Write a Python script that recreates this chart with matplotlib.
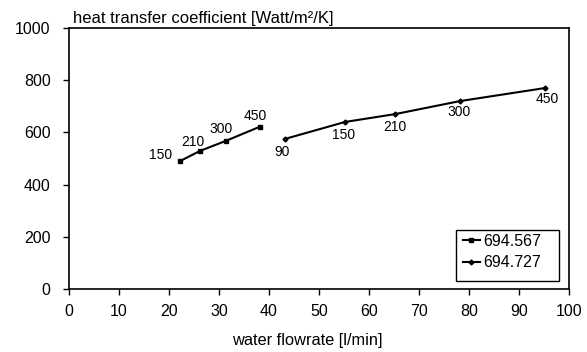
import matplotlib
matplotlib.use("Agg")
import matplotlib.pyplot as plt
from matplotlib.patches import Rectangle

plt.rcParams['font.family'] = ['Liberation Sans', 'DejaVu Sans']

s1_x = [22.2, 26.2, 31.3, 38.2]
s1_y = [490, 529, 567, 622]
s1_labels = ["150", "210", "300", "450"]

s2_x = [43.2, 55.2, 65.2, 78.2, 95.2]
s2_y = [575, 640, 670, 720, 770]
s2_labels = ["90", "150", "210", "300", "450"]

W, H = 587, 352
PX = 72 / 100  # points per pixel

# label offsets (pixels, layout only)
s1_off = [(-19, 6), (-7, 9), (-4, 12), (-5, 11)]
s2_off = [(-3, -13), (-1, -13), (0, -13), (-1, -11), (2, -11)]

fig = plt.figure(figsize=(W / 100, H / 100), dpi=100)
AX_L, AX_T, AX_R, AX_B = 69, 28, 569, 289
ax = fig.add_axes([AX_L / W, 1 - AX_B / H, (AX_R - AX_L) / W, (AX_B - AX_T) / H])

def ax_fx(px):
    return (px - AX_L) / (AX_R - AX_L)

def ax_fy(py):
    return (AX_B - py) / (AX_B - AX_T)

ax.plot(s1_x, s1_y, color='black', lw=1.5, marker='s', ms=3, label='694.567')
ax.plot(s2_x, s2_y, color='black', lw=1.5, marker='D', ms=2.5, label='694.727')

for (x, y, t), (dx, dy) in zip(zip(s1_x, s1_y, s1_labels), s1_off):
    ax.annotate(t, (x, y), xytext=(dx * PX, dy * PX), textcoords='offset points',
                ha='center', va='center', fontsize=10)
for (x, y, t), (dx, dy) in zip(zip(s2_x, s2_y, s2_labels), s2_off):
    ax.annotate(t, (x, y), xytext=(dx * PX, dy * PX), textcoords='offset points',
                ha='center', va='center', fontsize=10)

ax.set_xlim(0, 100)
ax.set_ylim(0, 1000)
ax.set_xticks(range(0, 101, 10))
ax.set_yticks(range(0, 1001, 200))
ax.tick_params(direction='out', length=4.3, labelsize=11.5, width=1, colors='black')
ax.tick_params(axis='y', pad=9)
ax.tick_params(axis='x', pad=6.5)
for sp in ax.spines.values():
    sp.set_linewidth(1.2)

fig.text(307 / W, 1 - 340 / H, 'water flowrate [l/min]', fontsize=11.8,
         ha='center', va='center')
fig.text(73 / W, 1 - 18 / H, 'heat transfer coefficient [Watt/m²/K]', fontsize=12,
         ha='left', va='center')

# legend frame
x0, x1 = ax_fx(456), ax_fx(559)
y0, y1 = ax_fy(281), ax_fy(230)
ax.add_patch(Rectangle((x0, y0), x1 - x0, y1 - y0, transform=ax.transAxes,
                       facecolor='white', edgecolor='black', lw=1.0, zorder=4))
leg = ax.legend(loc='upper left', bbox_to_anchor=(ax_fx(463), ax_fy(234)),
                borderaxespad=0, borderpad=0, fontsize=11.5, frameon=False,
                handlelength=1.05, handletextpad=0.2, labelspacing=0.4)
leg.set_zorder(5)

fig.savefig('out.png', dpi=100)
